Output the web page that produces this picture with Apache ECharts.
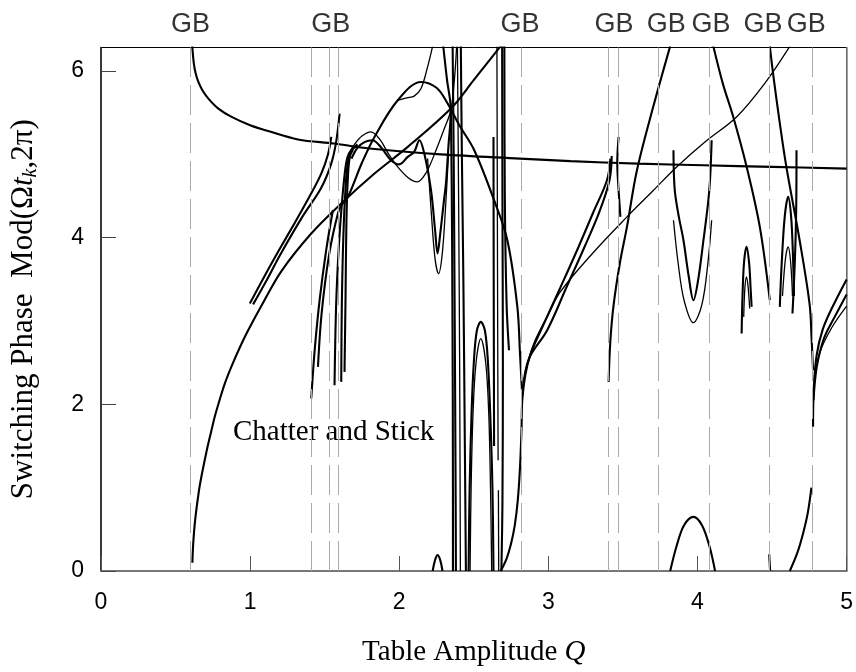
<!DOCTYPE html>
<html><head><meta charset="utf-8">
<script src="https://cdn.jsdelivr.net/npm/echarts/dist/echarts.min.js"></script>
<style>html,body{margin:0;padding:0;background:#fff}#c{width:856px;height:672px}</style>
</head><body><div id="c"></div>
<script>
const TWO_PI = 2 * Math.PI;
const xTicks = [0, 1, 2, 3, 4, 5];
const yTicks = [0, 2, 4, 6];
const gbLines = [0.604, 1.406, 1.529, 1.593, 2.821, 3.400, 3.474, 3.737, 4.080, 4.477, 4.771];
const gbLabelQ = [0.60, 1.54, 2.81, 3.44, 3.79, 4.09, 4.44, 4.73];
const gbLabel = 'GB';
const annotation = 'Chatter and Stick';

// branches [Q, phase]
const curveA = [[0.612,6.3],[0.622,6.1],[0.635,5.97],[0.653,5.87],[0.68,5.77],[0.72,5.67],[0.787,5.55],[0.876,5.45],[1.0,5.35],[1.121,5.28],[1.321,5.18],[1.566,5.13],[1.8,5.07],[2.279,5.0],[2.81,4.95],[3.148,4.92],[3.6,4.89],[4.04,4.87],[4.5,4.85],[5.0,4.83]];
const curveB = [[0.613,0.1],[0.616,0.25],[0.621,0.4],[0.628,0.55],[0.637,0.7],[0.648,0.85],[0.66,1.0],[0.675,1.15],[0.692,1.3],[0.712,1.47],[0.737,1.66],[0.764,1.86],[0.795,2.05],[0.83,2.25],[0.876,2.46],[0.93,2.68],[0.987,2.89],[1.087,3.22],[1.21,3.6],[1.41,4.05],[1.611,4.41],[1.834,4.77],[2.057,5.09],[2.346,5.55],[2.503,5.9],[2.68,6.3]];
const curveC1 = [[0.998,3.21],[1.1,3.55],[1.2,3.87],[1.3,4.18],[1.4,4.5],[1.477,4.77],[1.522,5.0],[1.544,5.21]];
const curveC2 = [[1.02,3.2],[1.12,3.52],[1.2,3.79],[1.35,4.25],[1.477,4.6],[1.544,4.89],[1.577,5.15],[1.60,5.49]];
const curveD1 = [[1.41,2.07],[1.433,2.65],[1.466,3.25],[1.51,3.85],[1.555,4.33]];
const curveD1b = [[1.455,2.45],[1.48,3.1],[1.53,3.8],[1.59,4.3],[1.62,4.42]];
const curveD2 = [[1.566,2.23],[1.577,3.2],[1.595,3.9],[1.615,4.4],[1.64,4.85],[1.66,5.0],[1.70,5.1]];
const curveD3 = [[1.611,2.27],[1.615,3.2],[1.625,4.0],[1.64,4.6],[1.66,4.95],[1.69,5.05]];
const curveD4 = [[1.633,2.39],[1.64,3.3],[1.645,4.1],[1.655,4.7],[1.675,5.02],[1.72,5.12]];
const curveHa = [[1.615,4.4],[1.656,4.49],[1.75,4.9],[1.834,5.21],[1.99,5.65],[2.146,5.87],[2.25,5.8],[2.325,5.61],[2.403,5.35],[2.503,5.05],[2.636,4.45],[2.725,3.97],[2.792,3.17],[2.81,2.6],[2.825,2.1]];
const curveL1 = [[1.66,5.0],[1.70,5.12],[1.75,5.22],[1.81,5.27],[1.87,5.18],[1.93,5.0],[1.99,4.85],[2.06,4.72],[2.12,4.67],[2.18,4.78],[2.24,5.02],[2.30,5.3],[2.346,5.53],[2.37,5.9],[2.385,6.3]];
const curveL2 = [[1.68,4.95],[1.72,5.08],[1.77,5.15],[1.82,5.17],[1.88,5.08],[1.945,4.93],[2.0,4.88],[2.057,4.97],[2.1,5.03],[2.135,5.17],[2.168,5.01],[2.213,4.57],[2.24,4.1],[2.257,3.81],[2.275,4.05],[2.3,4.45],[2.313,4.65],[2.33,5.1],[2.346,5.53],[2.32,5.9],[2.295,6.3]];
const curveL2o = [[2.19,4.95],[2.215,4.3],[2.24,3.75],[2.264,3.57],[2.288,3.8],[2.31,4.35],[2.33,5.0]];
const curveT = [[1.99,5.65],[2.05,5.68],[2.1,5.7],[2.146,5.79],[2.19,6.05],[2.224,6.3]];
const curveV1 = [[2.346,5.53],[2.352,4.6],[2.357,3.0],[2.36,1.0],[2.36,0]];
const curveV2 = [[2.358,6.3],[2.365,5.0],[2.372,3.0],[2.378,1.0],[2.38,0]];
const curveV3 = [[2.39,6.3],[2.398,4.5],[2.405,2.5],[2.41,0]];
const curveV4 = [[2.413,6.3],[2.42,5.0],[2.43,3.5],[2.44,1.5],[2.447,0]];
const curveArc1 = [[2.465,0],[2.472,1.0],[2.485,1.9],[2.5,2.5],[2.52,2.88],[2.547,2.99],[2.575,2.88],[2.595,2.5],[2.61,1.9],[2.625,1.0],[2.632,0]];
const curveArc2 = [[2.475,0],[2.482,1.0],[2.495,1.9],[2.515,2.5],[2.547,2.79],[2.58,2.5],[2.6,1.9],[2.612,1.0],[2.62,0]];
const curveW0 = [[2.632,5.21],[2.633,4.0],[2.634,3.0],[2.636,1.5]];
const curveW1a = [[2.655,6.3],[2.657,5.0],[2.66,3.0],[2.663,1.33]];
const curveW1b = [[2.665,0.97],[2.667,0]];
const curveW2 = [[2.69,6.3],[2.692,4.5],[2.695,2.5],[2.692,0.8],[2.685,0]];
const curveW3 = [[2.705,6.3],[2.708,4.5],[2.72,3.2],[2.736,2.65]];
const curveE1 = [[2.68,0],[2.72,0.15],[2.75,0.33],[2.775,0.55],[2.795,0.85],[2.81,1.25],[2.82,1.7],[2.825,2.05],[2.845,2.35],[2.88,2.6],[2.95,2.89],[3.08,3.4],[3.2,3.88],[3.3,4.3],[3.393,4.69],[3.416,4.95]];
const curveE2 = [[2.83,2.2],[2.87,2.55],[2.992,2.89],[3.12,3.4],[3.24,3.88],[3.34,4.3],[3.41,4.69],[3.425,4.98]];
const curveF = [[2.84,2.35],[2.9,2.72],[3.0,3.08],[3.08,3.35],[3.3,3.82],[3.527,4.25],[3.7,4.56],[3.86,4.85],[4.05,5.15],[4.262,5.45],[4.45,5.85],[4.62,6.3]];
const curveS1 = [[3.471,5.21],[3.462,4.9],[3.47,4.6],[3.483,4.25]];
const curveG1 = [[3.404,2.27],[3.416,2.77],[3.438,3.2],[3.48,3.7],[3.527,4.13],[3.594,4.81],[3.7,5.55],[3.817,6.3]];
const curveU1 = [[3.839,5.05],[3.842,4.75],[3.85,4.53],[3.875,4.25],[3.906,3.97],[3.94,3.55],[3.973,3.25],[4.005,3.5],[4.04,3.97],[4.07,4.4],[4.084,4.69],[4.095,5.17]];
const curveU2 = [[3.839,4.21],[3.87,3.7],[3.91,3.25],[3.973,2.98],[4.03,3.2],[4.07,3.7],[4.095,4.21]];
const curveH1 = [[4.106,6.3],[4.17,5.85],[4.24,5.45],[4.33,4.85],[4.418,4.13],[4.485,3.25]];
const curveH2 = [[4.485,6.3],[4.507,5.97],[4.55,5.4],[4.596,4.85],[4.685,3.97],[4.752,3.2],[4.765,2.8],[4.775,2.41]];
const curveJ1 = [[4.296,2.85],[4.302,3.3],[4.312,3.7],[4.329,3.89],[4.346,3.7],[4.356,3.4],[4.363,3.17]];
const curveJ2 = [[4.31,3.05],[4.318,3.4],[4.329,3.53],[4.34,3.4],[4.35,3.15]];
const curveK1 = [[4.552,3.17],[4.565,3.7],[4.585,4.25],[4.608,4.49],[4.628,4.25],[4.64,3.8],[4.647,3.3]];
const curveK2 = [[4.57,3.3],[4.59,3.75],[4.608,3.89],[4.625,3.7],[4.637,3.3]];
const curveK3 = [[4.664,5.05],[4.663,4.5],[4.658,4.0],[4.648,3.5],[4.637,3.09]];
const curveI1 = [[4.775,1.73],[4.78,2.2],[4.8,2.6],[4.84,2.9],[4.9,3.15],[5.0,3.5]];
const curveI2 = [[4.778,2.05],[4.8,2.45],[4.85,2.8],[4.92,3.05],[5.0,3.32]];
const curveI3 = [[4.785,2.3],[4.82,2.62],[4.9,2.92],[5.0,3.18]];
const curveP = [[3.817,0],[3.86,0.3],[3.91,0.55],[3.973,0.65],[4.03,0.55],[4.08,0.3],[4.118,0]];
const curveArc0 = [[2.224,0],[2.24,0.13],[2.257,0.19],[2.275,0.13],[2.29,0]];
const curveSp = [[4.481,0.2],[4.487,0]];
const curveR = [[4.619,0],[4.67,0.22],[4.708,0.45],[4.74,0.7],[4.764,1.0]];

const branches = {A:curveA,B:curveB,C1:curveC1,C2:curveC2,D1:curveD1,D1b:curveD1b,D2:curveD2,D3:curveD3,D4:curveD4,
  Ha:curveHa,L1:curveL1,L2:curveL2,L2o:curveL2o,T:curveT,V1:curveV1,V2:curveV2,V3:curveV3,V4:curveV4,
  Arc1:curveArc1,Arc2:curveArc2,W0:curveW0,W1a:curveW1a,W1b:curveW1b,W2:curveW2,W3:curveW3,E1:curveE1,E2:curveE2,
  F:curveF,S1:curveS1,G1:curveG1,U1:curveU1,U2:curveU2,H1:curveH1,H2:curveH2,J1:curveJ1,J2:curveJ2,K1:curveK1,K2:curveK2,K3:curveK3,
  I1:curveI1,I2:curveI2,I3:curveI3,P:curveP,Arc0:curveArc0,Sp:curveSp,R:curveR};

// styling (kept apart from data)
const thinBranches = ['F','T','L2o','U2','I3','Arc2','J2','K2','V3','W1a','W1b','L1'];
const serif = '"Liberation Serif", "DejaVu Serif", serif';
const sans = '"Liberation Sans", Arial, sans-serif';

const chart = echarts.init(document.getElementById('c'), null, {renderer:'canvas'});
const series = Object.keys(branches).map(k => ({
  type:'line', name:k, data:branches[k], showSymbol:false, symbol:'none', smooth:0.35,
  lineStyle:{color:'#000', width: thinBranches.includes(k) ? 1.3 : 2.1}, silent:true, z:3, clip:true
}));
series.unshift({
  type:'line', data:[], silent:true, z:1,
  markLine:{symbol:'none', silent:true, label:{show:false}, animation:false,
    lineStyle:{color:'#aaaaaa', width:1, type:[30,8]},
    data: gbLines.map(q => ({xAxis:q}))}
});
series.push({
  type:'scatter', data: gbLabelQ.map(q => [q, TWO_PI]), symbolSize:0, silent:true, clip:false, z:5,
  label:{show:true, position:'top', distance:9, formatter: gbLabel, fontSize:27, fontFamily:sans, color:'#000'}
});

chart.setOption({
  animation:false,
  backgroundColor:'#fff',
  grid:{left:99, right:9, top:47.5, bottom:101, show:true, borderColor:'#000', borderWidth:1},
  xAxis:{type:'value', min:xTicks[0], max:xTicks[xTicks.length-1], interval:1,
    axisLine:{lineStyle:{color:'#777', width:2}},
    axisTick:{inside:true, length:15, lineStyle:{color:'#555', width:1}},
    axisLabel:{margin:20, fontSize:23, fontFamily:sans, color:'#000'},
    splitLine:{show:false},
    name:'Table Amplitude {q|Q}', nameLocation:'middle', nameGap:67,
    nameTextStyle:{fontSize:29, fontFamily:serif, color:'#000', rich:{q:{fontSize:29, fontFamily:serif, fontStyle:'italic', color:'#000'}}}
  },
  yAxis:[{type:'value', min:yTicks[0], max:TWO_PI, interval:2,
    axisLine:{show:true, lineStyle:{color:'#222', width:1.5}},
    axisTick:{inside:true, length:15, lineStyle:{color:'#444', width:1}},
    axisLabel:{margin:17, fontSize:23, fontFamily:sans, color:'#000', showMaxLabel:false,
      formatter: v => yTicks.includes(v) ? String(v) : ''},
    splitLine:{show:false},
    name:'Switching Phase  Mod(Ω{i|t}{s|k},2π)', nameLocation:'middle', nameGap:60, nameRotate:90,
    nameTextStyle:{fontSize:31, fontFamily:serif, color:'#000', rich:{
      i:{fontSize:31, fontFamily:serif, fontStyle:'italic', color:'#000'},
      s:{fontSize:20, fontFamily:serif, fontStyle:'italic', color:'#000', verticalAlign:'bottom', padding:[15,0,0,0]}}}
  },{type:'value', min:0, max:TWO_PI, position:'right', axisLine:{show:true, lineStyle:{color:'#888', width:1.5}},
    axisTick:{show:false}, axisLabel:{show:false}, splitLine:{show:false}}],
  graphic:[{type:'text', left:233, top:418, silent:true,
    style:{text:annotation, font:'29px ' + serif, fill:'#000'}}],
  series: series
});
</script></body></html>
